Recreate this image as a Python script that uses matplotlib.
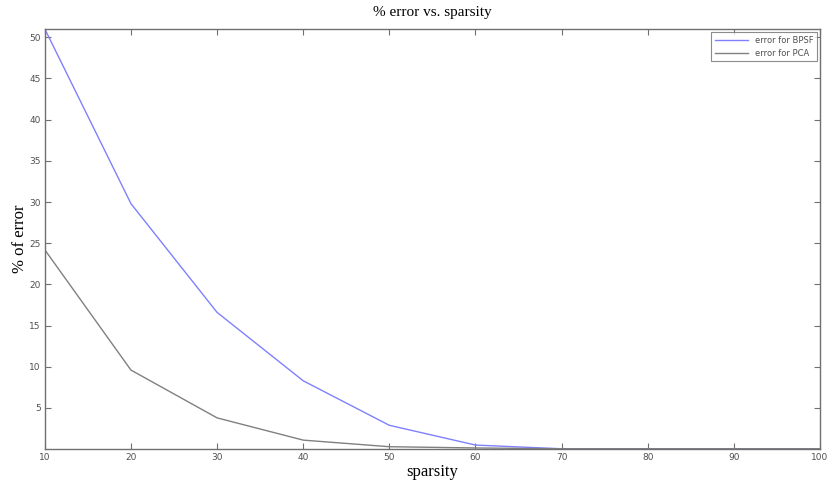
import numpy as np
import matplotlib
matplotlib.use('Agg')
import matplotlib.pyplot as plt

sparsity = [10, 20, 30, 40, 50, 60, 70, 80, 90, 100]
error_bpsf = [51.0, 29.8, 16.6, 8.3, 2.9, 0.5, 0.05, 0.05, 0.05, 0.05]
error_pca = [24.2, 9.6, 3.8, 1.1, 0.3, 0.15, 0.05, 0.05, 0.05, 0.05]

xticks = [10, 20, 30, 40, 50, 60, 70, 80, 90, 100]
yticks = [5, 10, 15, 20, 25, 30, 35, 40, 45, 50]

fig = plt.figure(figsize=(8.3, 4.83), dpi=100)
ax = fig.add_axes([0.054, 0.070, 0.934, 0.870])

ax.plot(sparsity, error_bpsf, color='#8080ff', lw=1.0, label='error for BPSF')
ax.plot(sparsity, error_pca, color='#808080', lw=1.0, label='error for PCA')

ax.set_xlim(10, 100)
ax.set_ylim(0, 51)
ax.set_xticks(xticks)
ax.set_yticks(yticks)
ax.tick_params(direction='in', length=4, width=0.8, color='#707070',
               labelsize=6.5, labelcolor='#505050', top=True, right=True, pad=3)
for s in ax.spines.values():
    s.set_color('#707070')
    s.set_linewidth(1.0)

ax.set_title('% error vs. sparsity', fontfamily='Liberation Serif', fontsize=11, pad=9)
ax.set_xlabel('sparsity', fontfamily='Liberation Serif', fontsize=12, labelpad=1)
ax.set_ylabel('% of error', fontfamily='Liberation Serif', fontsize=12, labelpad=1)

leg = ax.legend(loc='upper right', fontsize=6, frameon=True, fancybox=False,
                edgecolor='#707070', handlelength=4, borderaxespad=0.4)
leg.get_frame().set_linewidth(0.8)
for t in leg.get_texts():
    t.set_color('#505050')

fig.savefig('out.png', dpi=100)
